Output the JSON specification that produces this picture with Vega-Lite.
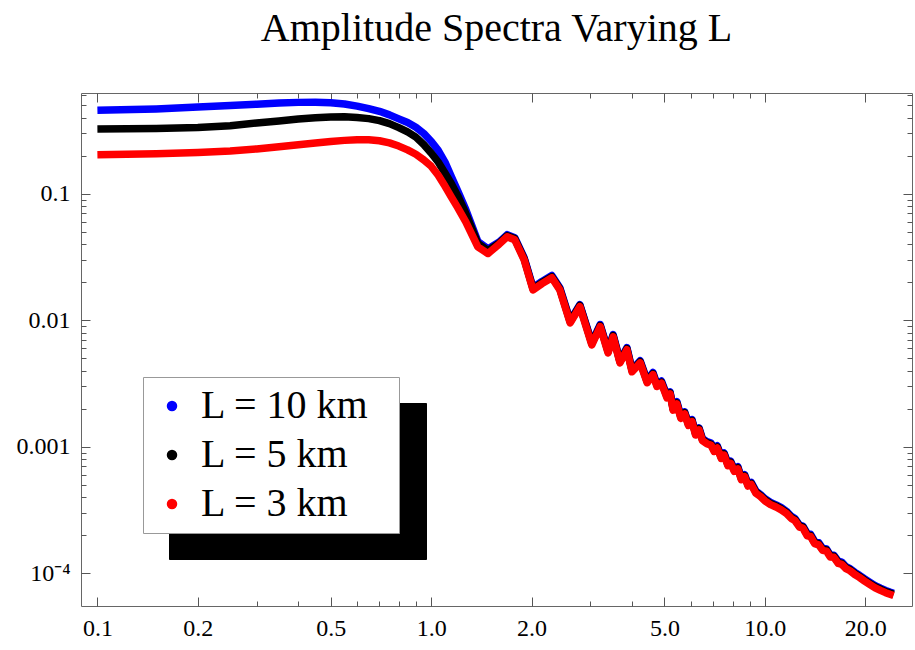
{
  "$schema": "https://vega.github.io/schema/vega-lite/v6.json",
  "width": 831,
  "height": 513,
  "autosize": {"type": "none"},
  "padding": {"left": 81, "top": 93, "right": 3, "bottom": 44},
  "background": "white",
  "title": {"text": "Amplitude Spectra Varying L", "font": "Liberation Serif", "fontSize": 40, "fontWeight": "normal", "color": "black", "anchor": "middle", "frame": "group", "baseline": "alphabetic", "offset": 2},
  "config": {
    "view": {"stroke": "#666666", "strokeWidth": 1},
    "axis": {"domain": false, "grid": false, "labelFont": "Liberation Serif", "labelFontSize": 24, "labelColor": "black", "tickColor": "#555555", "tickWidth": 1, "labelOverlap": false, "labelFlush": false, "labelBound": false}
  },
  "data": {"values": [
    {"s":"L = 10 km","f":0.1,"a":0.456},{"s":"L = 10 km","f":0.15,"a":0.468},{"s":"L = 10 km","f":0.2,"a":0.484},{"s":"L = 10 km","f":0.25,"a":0.497},{"s":"L = 10 km","f":0.3,"a":0.51},{"s":"L = 10 km","f":0.35,"a":0.52},{"s":"L = 10 km","f":0.4,"a":0.527},{"s":"L = 10 km","f":0.45,"a":0.528},{"s":"L = 10 km","f":0.5,"a":0.524},{"s":"L = 10 km","f":0.55,"a":0.512},{"s":"L = 10 km","f":0.6,"a":0.492},{"s":"L = 10 km","f":0.65,"a":0.47},{"s":"L = 10 km","f":0.7,"a":0.448},{"s":"L = 10 km","f":0.75,"a":0.42},{"s":"L = 10 km","f":0.8,"a":0.39},{"s":"L = 10 km","f":0.85,"a":0.365},{"s":"L = 10 km","f":0.9,"a":0.335},{"s":"L = 10 km","f":0.95,"a":0.3},{"s":"L = 10 km","f":1.0,"a":0.26},{"s":"L = 10 km","f":1.05,"a":0.22},{"s":"L = 10 km","f":1.1,"a":0.178},{"s":"L = 10 km","f":1.15,"a":0.136},{"s":"L = 10 km","f":1.2,"a":0.106},{"s":"L = 10 km","f":1.27,"a":0.075},{"s":"L = 10 km","f":1.38,"a":0.042},{"s":"L = 10 km","f":1.48,"a":0.0367},
    {"s":"L = 10 km","f":1.6,"a":0.0416},{"s":"L = 10 km","f":1.69,"a":0.0475},{"s":"L = 10 km","f":1.78,"a":0.045},{"s":"L = 10 km","f":1.9,"a":0.0312},{"s":"L = 10 km","f":2.02,"a":0.0181},{"s":"L = 10 km","f":2.15,"a":0.0203},{"s":"L = 10 km","f":2.3,"a":0.0226},{"s":"L = 10 km","f":2.43,"a":0.0181},{"s":"L = 10 km","f":2.61,"a":0.00993},{"s":"L = 10 km","f":2.79,"a":0.0133},{"s":"L = 10 km","f":3.03,"a":0.00666},{"s":"L = 10 km","f":3.21,"a":0.00926},{"s":"L = 10 km","f":3.39,"a":0.00575},{"s":"L = 10 km","f":3.51,"a":0.00771},{"s":"L = 10 km","f":3.68,"a":0.00479},{"s":"L = 10 km","f":3.86,"a":0.00608},{"s":"L = 10 km","f":4.0,"a":0.00408},{"s":"L = 10 km","f":4.23,"a":0.00479},{"s":"L = 10 km","f":4.44,"a":0.00334},{"s":"L = 10 km","f":4.62,"a":0.00387},{"s":"L = 10 km","f":4.75,"a":0.00312},{"s":"L = 10 km","f":4.9,"a":0.00331},{"s":"L = 10 km","f":5.09,"a":0.00254},{"s":"L = 10 km","f":5.2,"a":0.00272},{"s":"L = 10 km","f":5.31,"a":0.00203},{"s":"L = 10 km","f":5.45,"a":0.00227},{"s":"L = 10 km","f":5.6,"a":0.00175},{"s":"L = 10 km","f":5.75,"a":0.00189},{"s":"L = 10 km","f":5.9,"a":0.00154},{"s":"L = 10 km","f":6.05,"a":0.00164},{"s":"L = 10 km","f":6.2,"a":0.00129},{"s":"L = 10 km","f":6.35,"a":0.00141},{"s":"L = 10 km","f":6.5,"a":0.00116},{"s":"L = 10 km","f":6.7,"a":0.0011},{"s":"L = 10 km","f":6.9,"a":0.00107},{"s":"L = 10 km","f":7.05,"a":0.000957},{"s":"L = 10 km","f":7.2,"a":0.00102},{"s":"L = 10 km","f":7.4,"a":0.000842},{"s":"L = 10 km","f":7.55,"a":0.000894},{"s":"L = 10 km","f":7.75,"a":0.000738},{"s":"L = 10 km","f":7.9,"a":0.00077},{"s":"L = 10 km","f":8.1,"a":0.000666},{"s":"L = 10 km","f":8.3,"a":0.000697},{"s":"L = 10 km","f":8.5,"a":0.000572},{"s":"L = 10 km","f":8.7,"a":0.000603},{"s":"L = 10 km","f":8.9,"a":0.00051},{"s":"L = 10 km","f":9.1,"a":0.000525},{"s":"L = 10 km","f":9.4,"a":0.000447},{"s":"L = 10 km","f":9.7,"a":0.000421},{"s":"L = 10 km","f":10.0,"a":0.00039},{"s":"L = 10 km","f":10.4,"a":0.000364},{"s":"L = 10 km","f":10.8,"a":0.000348},{"s":"L = 10 km","f":11.2,"a":0.000331},{"s":"L = 10 km","f":11.6,"a":0.00031},{"s":"L = 10 km","f":12.0,"a":0.000283},{"s":"L = 10 km","f":12.3,"a":0.000272},{"s":"L = 10 km","f":12.7,"a":0.000241},{"s":"L = 10 km","f":13.0,"a":0.000237},{"s":"L = 10 km","f":13.4,"a":0.000206},{"s":"L = 10 km","f":13.7,"a":0.000204},{"s":"L = 10 km","f":14.1,"a":0.000179},{"s":"L = 10 km","f":14.5,"a":0.000175},{"s":"L = 10 km","f":14.9,"a":0.000158},{"s":"L = 10 km","f":15.3,"a":0.000156},{"s":"L = 10 km","f":15.7,"a":0.00014},{"s":"L = 10 km","f":16.1,"a":0.000139},{"s":"L = 10 km","f":16.6,"a":0.000125},{"s":"L = 10 km","f":17.0,"a":0.000123},{"s":"L = 10 km","f":17.5,"a":0.000113},{"s":"L = 10 km","f":18.0,"a":0.000109},{"s":"L = 10 km","f":18.6,"a":0.000102},{"s":"L = 10 km","f":19.2,"a":0.0000967},{"s":"L = 10 km","f":19.9,"a":0.0000905},{"s":"L = 10 km","f":20.6,"a":0.0000853},{"s":"L = 10 km","f":21.4,"a":0.0000801},{"s":"L = 10 km","f":22.2,"a":0.0000764},{"s":"L = 10 km","f":23.0,"a":0.0000733},{"s":"L = 10 km","f":23.7,"a":0.0000712},{"s":"L = 10 km","f":24.3,"a":0.0000697},
    {"s":"L = 5 km","f":0.1,"a":0.324},{"s":"L = 5 km","f":0.15,"a":0.328},{"s":"L = 5 km","f":0.2,"a":0.334},{"s":"L = 5 km","f":0.25,"a":0.345},{"s":"L = 5 km","f":0.3,"a":0.362},{"s":"L = 5 km","f":0.35,"a":0.376},{"s":"L = 5 km","f":0.4,"a":0.389},{"s":"L = 5 km","f":0.45,"a":0.398},{"s":"L = 5 km","f":0.5,"a":0.404},{"s":"L = 5 km","f":0.55,"a":0.405},{"s":"L = 5 km","f":0.6,"a":0.4},{"s":"L = 5 km","f":0.65,"a":0.392},{"s":"L = 5 km","f":0.7,"a":0.378},{"s":"L = 5 km","f":0.75,"a":0.358},{"s":"L = 5 km","f":0.8,"a":0.333},{"s":"L = 5 km","f":0.85,"a":0.308},{"s":"L = 5 km","f":0.9,"a":0.28},{"s":"L = 5 km","f":0.95,"a":0.245},{"s":"L = 5 km","f":1.0,"a":0.21},{"s":"L = 5 km","f":1.05,"a":0.178},{"s":"L = 5 km","f":1.1,"a":0.146},{"s":"L = 5 km","f":1.15,"a":0.12},{"s":"L = 5 km","f":1.2,"a":0.097},{"s":"L = 5 km","f":1.27,"a":0.07},{"s":"L = 5 km","f":1.38,"a":0.0405},{"s":"L = 5 km","f":1.48,"a":0.0355},
    {"s":"L = 5 km","f":1.6,"a":0.0408},{"s":"L = 5 km","f":1.69,"a":0.0466},{"s":"L = 5 km","f":1.78,"a":0.0442},{"s":"L = 5 km","f":1.9,"a":0.0306},{"s":"L = 5 km","f":2.02,"a":0.0177},{"s":"L = 5 km","f":2.15,"a":0.0199},{"s":"L = 5 km","f":2.3,"a":0.0221},{"s":"L = 5 km","f":2.43,"a":0.0177},{"s":"L = 5 km","f":2.61,"a":0.00974},{"s":"L = 5 km","f":2.79,"a":0.0131},{"s":"L = 5 km","f":3.03,"a":0.00653},{"s":"L = 5 km","f":3.21,"a":0.00908},{"s":"L = 5 km","f":3.39,"a":0.00564},{"s":"L = 5 km","f":3.51,"a":0.00756},{"s":"L = 5 km","f":3.68,"a":0.0047},{"s":"L = 5 km","f":3.86,"a":0.00597},{"s":"L = 5 km","f":4.0,"a":0.004},{"s":"L = 5 km","f":4.23,"a":0.0047},{"s":"L = 5 km","f":4.44,"a":0.00327},{"s":"L = 5 km","f":4.62,"a":0.00379},{"s":"L = 5 km","f":4.75,"a":0.00306},{"s":"L = 5 km","f":4.9,"a":0.00324},{"s":"L = 5 km","f":5.09,"a":0.00249},{"s":"L = 5 km","f":5.2,"a":0.00267},{"s":"L = 5 km","f":5.31,"a":0.00199},{"s":"L = 5 km","f":5.45,"a":0.00222},{"s":"L = 5 km","f":5.6,"a":0.00171},{"s":"L = 5 km","f":5.75,"a":0.00186},{"s":"L = 5 km","f":5.9,"a":0.00151},{"s":"L = 5 km","f":6.05,"a":0.00161},{"s":"L = 5 km","f":6.2,"a":0.00126},{"s":"L = 5 km","f":6.35,"a":0.00139},{"s":"L = 5 km","f":6.5,"a":0.00114},{"s":"L = 5 km","f":6.7,"a":0.00108},{"s":"L = 5 km","f":6.9,"a":0.00105},{"s":"L = 5 km","f":7.05,"a":0.000938},{"s":"L = 5 km","f":7.2,"a":0.001},{"s":"L = 5 km","f":7.4,"a":0.000826},{"s":"L = 5 km","f":7.55,"a":0.000877},{"s":"L = 5 km","f":7.75,"a":0.000724},{"s":"L = 5 km","f":7.9,"a":0.000755},{"s":"L = 5 km","f":8.1,"a":0.000653},{"s":"L = 5 km","f":8.3,"a":0.000683},{"s":"L = 5 km","f":8.5,"a":0.000561},{"s":"L = 5 km","f":8.7,"a":0.000592},{"s":"L = 5 km","f":8.9,"a":0.0005},{"s":"L = 5 km","f":9.1,"a":0.000515},{"s":"L = 5 km","f":9.4,"a":0.000439},{"s":"L = 5 km","f":9.7,"a":0.000413},{"s":"L = 5 km","f":10.0,"a":0.000383},{"s":"L = 5 km","f":10.4,"a":0.000357},{"s":"L = 5 km","f":10.8,"a":0.000342},{"s":"L = 5 km","f":11.2,"a":0.000324},{"s":"L = 5 km","f":11.6,"a":0.000304},{"s":"L = 5 km","f":12.0,"a":0.000277},{"s":"L = 5 km","f":12.3,"a":0.000267},{"s":"L = 5 km","f":12.7,"a":0.000237},{"s":"L = 5 km","f":13.0,"a":0.000233},{"s":"L = 5 km","f":13.4,"a":0.000202},{"s":"L = 5 km","f":13.7,"a":0.0002},{"s":"L = 5 km","f":14.1,"a":0.000175},{"s":"L = 5 km","f":14.5,"a":0.000171},{"s":"L = 5 km","f":14.9,"a":0.000155},{"s":"L = 5 km","f":15.3,"a":0.000153},{"s":"L = 5 km","f":15.7,"a":0.000138},{"s":"L = 5 km","f":16.1,"a":0.000137},{"s":"L = 5 km","f":16.6,"a":0.000122},{"s":"L = 5 km","f":17.0,"a":0.00012},{"s":"L = 5 km","f":17.5,"a":0.000111},{"s":"L = 5 km","f":18.0,"a":0.000107},{"s":"L = 5 km","f":18.6,"a":0.0001},{"s":"L = 5 km","f":19.2,"a":0.0000949},{"s":"L = 5 km","f":19.9,"a":0.0000887},{"s":"L = 5 km","f":20.6,"a":0.0000836},{"s":"L = 5 km","f":21.4,"a":0.0000785},{"s":"L = 5 km","f":22.2,"a":0.000075},{"s":"L = 5 km","f":23.0,"a":0.0000719},{"s":"L = 5 km","f":23.7,"a":0.0000699},{"s":"L = 5 km","f":24.3,"a":0.0000683},
    {"s":"L = 3 km","f":0.1,"a":0.203},{"s":"L = 3 km","f":0.15,"a":0.207},{"s":"L = 3 km","f":0.2,"a":0.212},{"s":"L = 3 km","f":0.25,"a":0.218},{"s":"L = 3 km","f":0.3,"a":0.226},{"s":"L = 3 km","f":0.35,"a":0.235},{"s":"L = 3 km","f":0.4,"a":0.244},{"s":"L = 3 km","f":0.45,"a":0.252},{"s":"L = 3 km","f":0.5,"a":0.259},{"s":"L = 3 km","f":0.55,"a":0.264},{"s":"L = 3 km","f":0.6,"a":0.267},{"s":"L = 3 km","f":0.65,"a":0.267},{"s":"L = 3 km","f":0.7,"a":0.262},{"s":"L = 3 km","f":0.75,"a":0.252},{"s":"L = 3 km","f":0.8,"a":0.238},{"s":"L = 3 km","f":0.85,"a":0.222},{"s":"L = 3 km","f":0.9,"a":0.205},{"s":"L = 3 km","f":0.95,"a":0.185},{"s":"L = 3 km","f":1.0,"a":0.165},{"s":"L = 3 km","f":1.05,"a":0.14},{"s":"L = 3 km","f":1.1,"a":0.115},{"s":"L = 3 km","f":1.15,"a":0.094},{"s":"L = 3 km","f":1.2,"a":0.078},{"s":"L = 3 km","f":1.27,"a":0.06},{"s":"L = 3 km","f":1.38,"a":0.038},{"s":"L = 3 km","f":1.48,"a":0.0337},
    {"s":"L = 3 km","f":1.6,"a":0.04},{"s":"L = 3 km","f":1.69,"a":0.0457},{"s":"L = 3 km","f":1.78,"a":0.0433},{"s":"L = 3 km","f":1.9,"a":0.03},{"s":"L = 3 km","f":2.02,"a":0.0174},{"s":"L = 3 km","f":2.15,"a":0.0195},{"s":"L = 3 km","f":2.3,"a":0.0217},{"s":"L = 3 km","f":2.43,"a":0.0174},{"s":"L = 3 km","f":2.61,"a":0.00955},{"s":"L = 3 km","f":2.79,"a":0.0128},{"s":"L = 3 km","f":3.03,"a":0.0064},{"s":"L = 3 km","f":3.21,"a":0.0089},{"s":"L = 3 km","f":3.39,"a":0.00553},{"s":"L = 3 km","f":3.51,"a":0.00741},{"s":"L = 3 km","f":3.68,"a":0.00461},{"s":"L = 3 km","f":3.86,"a":0.00585},{"s":"L = 3 km","f":4.0,"a":0.00392},{"s":"L = 3 km","f":4.23,"a":0.00461},{"s":"L = 3 km","f":4.44,"a":0.00321},{"s":"L = 3 km","f":4.62,"a":0.00372},{"s":"L = 3 km","f":4.75,"a":0.003},{"s":"L = 3 km","f":4.9,"a":0.00318},{"s":"L = 3 km","f":5.09,"a":0.00244},{"s":"L = 3 km","f":5.2,"a":0.00262},{"s":"L = 3 km","f":5.31,"a":0.00195},{"s":"L = 3 km","f":5.45,"a":0.00218},{"s":"L = 3 km","f":5.6,"a":0.00168},{"s":"L = 3 km","f":5.75,"a":0.00182},{"s":"L = 3 km","f":5.9,"a":0.00148},{"s":"L = 3 km","f":6.05,"a":0.00158},{"s":"L = 3 km","f":6.2,"a":0.00124},{"s":"L = 3 km","f":6.35,"a":0.00136},{"s":"L = 3 km","f":6.5,"a":0.00112},{"s":"L = 3 km","f":6.7,"a":0.00106},{"s":"L = 3 km","f":6.9,"a":0.00103},{"s":"L = 3 km","f":7.05,"a":0.00092},{"s":"L = 3 km","f":7.2,"a":0.00098},{"s":"L = 3 km","f":7.4,"a":0.00081},{"s":"L = 3 km","f":7.55,"a":0.00086},{"s":"L = 3 km","f":7.75,"a":0.00071},{"s":"L = 3 km","f":7.9,"a":0.00074},{"s":"L = 3 km","f":8.1,"a":0.00064},{"s":"L = 3 km","f":8.3,"a":0.00067},{"s":"L = 3 km","f":8.5,"a":0.00055},{"s":"L = 3 km","f":8.7,"a":0.00058},{"s":"L = 3 km","f":8.9,"a":0.00049},{"s":"L = 3 km","f":9.1,"a":0.000505},{"s":"L = 3 km","f":9.4,"a":0.00043},{"s":"L = 3 km","f":9.7,"a":0.000405},{"s":"L = 3 km","f":10.0,"a":0.000375},{"s":"L = 3 km","f":10.4,"a":0.00035},{"s":"L = 3 km","f":10.8,"a":0.000335},{"s":"L = 3 km","f":11.2,"a":0.000318},{"s":"L = 3 km","f":11.6,"a":0.000298},{"s":"L = 3 km","f":12.0,"a":0.000272},{"s":"L = 3 km","f":12.3,"a":0.000262},{"s":"L = 3 km","f":12.7,"a":0.000232},{"s":"L = 3 km","f":13.0,"a":0.000228},{"s":"L = 3 km","f":13.4,"a":0.000198},{"s":"L = 3 km","f":13.7,"a":0.000196},{"s":"L = 3 km","f":14.1,"a":0.000172},{"s":"L = 3 km","f":14.5,"a":0.000168},{"s":"L = 3 km","f":14.9,"a":0.000152},{"s":"L = 3 km","f":15.3,"a":0.00015},{"s":"L = 3 km","f":15.7,"a":0.000135},{"s":"L = 3 km","f":16.1,"a":0.000134},{"s":"L = 3 km","f":16.6,"a":0.00012},{"s":"L = 3 km","f":17.0,"a":0.000118},{"s":"L = 3 km","f":17.5,"a":0.000109},{"s":"L = 3 km","f":18.0,"a":0.000105},{"s":"L = 3 km","f":18.6,"a":0.000098},{"s":"L = 3 km","f":19.2,"a":0.000093},{"s":"L = 3 km","f":19.9,"a":0.000087},{"s":"L = 3 km","f":20.6,"a":0.000082},{"s":"L = 3 km","f":21.4,"a":0.000077},{"s":"L = 3 km","f":22.2,"a":0.0000735},{"s":"L = 3 km","f":23.0,"a":0.0000705},{"s":"L = 3 km","f":23.7,"a":0.0000685},{"s":"L = 3 km","f":24.3,"a":0.000067}
  ]},
  "layer": [
    {
      "transform": [{"filter": "datum.f < 0"}],
      "mark": {"type": "point", "filled": true},
      "encoding": {
        "color": {"field": "s", "type": "nominal",
          "scale": {"domain": ["L = 3 km", "L = 5 km", "L = 10 km"], "range": ["#000000", "#000000", "#000000"]},
          "legend": {"orient": "none", "legendX": 88, "legendY": 310, "title": null, "fillColor": "#000000", "strokeColor": "#000000", "padding": 9, "symbolType": "circle", "symbolSize": 1600, "symbolStrokeWidth": 0, "symbolOpacity": 1, "symbolOffset": 0, "labelFont": "Liberation Serif", "labelFontSize": 40, "labelColor": "#000000", "labelOffset": 189, "rowPadding": 9, "labelLimit": 500, "labelExpr": "'.'"}
        }
      }
    },
    {
      "transform": [{"filter": "datum.f < 0"}],
      "mark": {"type": "point", "filled": true},
      "encoding": {
        "fill": {"field": "s", "type": "nominal",
          "scale": {"domain": ["L = 10 km", "L = 5 km", "L = 3 km"], "range": ["#0000ff", "#000000", "#ff0000"]},
          "legend": {"orient": "none", "legendX": 62, "legendY": 284, "title": null, "fillColor": "#ffffff", "strokeColor": "#999999", "padding": 9, "symbolType": "circle", "symbolSize": 110, "symbolStrokeWidth": 0, "symbolOpacity": 1, "symbolOffset": 0, "labelFont": "Liberation Serif", "labelFontSize": 40, "labelColor": "#000000", "labelOffset": 9, "rowPadding": 9, "labelLimit": 500, "labelExpr": "datum.label + '\u00a0\u00a0\u200b'"}
        }
      }
    },
    {
      "mark": {"type": "line", "strokeWidth": 7.5, "strokeJoin": "round", "clip": true},
      "encoding": {
        "x": {"field": "f", "type": "quantitative",
          "scale": {"type": "log", "domain": [0.0893, 27.6], "nice": false},
          "axis": {"orient": "bottom", "title": null,
            "values": [0.1, 0.2, 0.3, 0.4, 0.5, 0.6, 0.7, 0.8, 0.9, 1, 2, 3, 4, 5, 6, 7, 8, 9, 10, 20],
            "labelExpr": "indexof([0.1, 0.2, 0.5, 1, 2, 5, 10, 20], datum.value) >= 0 ? format(datum.value, '.1f') : ''",
            "tickSize": {"condition": {"test": "indexof([0.1, 0.2, 0.5, 1, 2, 5, 10, 20], datum.value) >= 0", "value": -9}, "value": -5},
            "labelPadding": 19}},
        "y": {"field": "a", "type": "quantitative",
          "scale": {"type": "log", "domain": [0.0000553, 0.625], "nice": false},
          "axis": {"orient": "left", "title": null,
            "values": [0.0001, 0.0002, 0.0003, 0.0004, 0.0005, 0.0006, 0.0007, 0.0008, 0.0009, 0.001, 0.002, 0.003, 0.004, 0.005, 0.006, 0.007, 0.008, 0.009, 0.01, 0.02, 0.03, 0.04, 0.05, 0.06, 0.07, 0.08, 0.09, 0.1, 0.2, 0.3, 0.4, 0.5, 0.6],
            "labelExpr": "datum.value == 0.1 ? '0.1' : datum.value == 0.01 ? '0.01' : datum.value == 0.001 ? '0.001' : datum.value == 0.0001 ? '10⁻⁴' : ''",
            "tickSize": {"condition": {"test": "indexof([0.0001, 0.001, 0.01, 0.1], datum.value) >= 0", "value": -9}, "value": -5},
            "labelPadding": 20}},
        "stroke": {"field": "s", "type": "nominal",
          "scale": {"domain": ["L = 10 km", "L = 5 km", "L = 3 km"], "range": ["#0000ff", "#000000", "#ff0000"]},
          "legend": null}
      }
    },
    {
      "transform": [{"filter": "datum.f < 0"}],
      "mark": "point",
      "encoding": {
        "x": {"field": "f", "type": "quantitative",
          "scale": {"type": "log", "domain": [0.0893, 27.6], "nice": false},
          "axis": {"orient": "top", "title": null, "labels": false,
            "values": [0.1, 0.2, 0.3, 0.4, 0.5, 0.6, 0.7, 0.8, 0.9, 1, 2, 3, 4, 5, 6, 7, 8, 9, 10, 20],
            "tickSize": {"condition": {"test": "indexof([0.1, 0.2, 0.5, 1, 2, 5, 10, 20], datum.value) >= 0", "value": -9}, "value": -5}}},
        "y": {"field": "a", "type": "quantitative",
          "scale": {"type": "log", "domain": [0.0000553, 0.625], "nice": false},
          "axis": {"orient": "right", "title": null, "labels": false,
            "values": [0.0001, 0.0002, 0.0003, 0.0004, 0.0005, 0.0006, 0.0007, 0.0008, 0.0009, 0.001, 0.002, 0.003, 0.004, 0.005, 0.006, 0.007, 0.008, 0.009, 0.01, 0.02, 0.03, 0.04, 0.05, 0.06, 0.07, 0.08, 0.09, 0.1, 0.2, 0.3, 0.4, 0.5, 0.6],
            "tickSize": {"condition": {"test": "indexof([0.0001, 0.001, 0.01, 0.1], datum.value) >= 0", "value": -9}, "value": -5}}}
      }
    }
  ],
  "resolve": {"axis": {"x": "independent", "y": "independent"}}
}
